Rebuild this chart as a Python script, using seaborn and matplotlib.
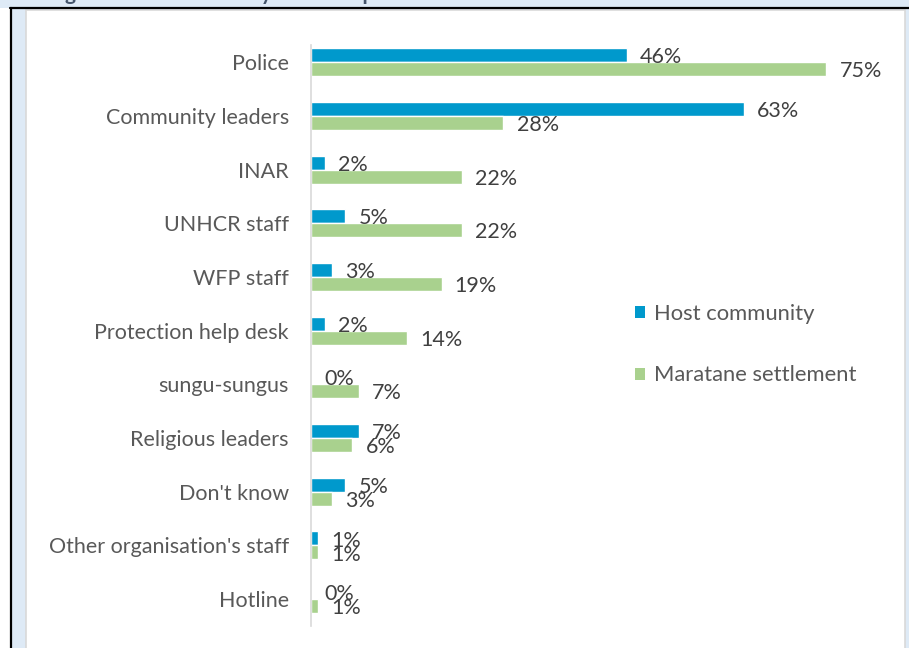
import matplotlib
matplotlib.use("Agg")
import matplotlib.pyplot as plt
from matplotlib.patches import Rectangle, Patch
import seaborn as sns
import pandas as pd

# Who respondents would first report to, by population group (%)
categories = [
    "Police", "Community leaders", "INAR", "UNHCR staff", "WFP staff",
    "Protection help desk", "sungu-sungus", "Religious leaders", "Don't know",
    "Other organisation's staff", "Hotline",
]
host_community = [46, 63, 2, 5, 3, 2, 0, 7, 5, 1, 0]
maratane_settlement = [75, 28, 22, 22, 19, 14, 7, 6, 3, 1, 1]
series_names = ["Host community", "Maratane settlement"]
series_colors = ["#0099CC", "#A9D18E"]
caption = "Figure 36: Who would you first report an incident of GBV to?"

df = pd.DataFrame({
    "category": categories * 2,
    "value": host_community + maratane_settlement,
    "group": [series_names[0]] * len(categories) + [series_names[1]] * len(categories),
})

sns.set_style("white")
plt.rcParams["font.family"] = ["Lato", "DejaVu Sans"]

W, H = 909, 648
FS = 15.5
fig = plt.figure(figsize=(W / 100, H / 100), dpi=100)
fig.patch.set_facecolor("white")

# page frame around the chart
page_blue = "#DEEAF6"
fig.add_artist(Rectangle((0, 1 - 8 / H), 1, 8 / H, transform=fig.transFigure,
                         facecolor=page_blue, edgecolor="none", zorder=-3))
fig.add_artist(Rectangle((12 / W, 0), (909 - 12) / W, (H - 9) / H, transform=fig.transFigure,
                         facecolor=page_blue, edgecolor="none", zorder=-3))
fig.add_artist(Rectangle((26 / W, -0.01), (905 - 26) / W, (H - 10) / H + 0.01,
                         transform=fig.transFigure, facecolor="white",
                         edgecolor="#D9D9D9", linewidth=1.2, zorder=-2))
fig.add_artist(plt.Line2D([10 / W, 1], [1 - 8 / H, 1 - 8 / H], transform=fig.transFigure,
                          color="black", linewidth=1.6, zorder=-1))
fig.add_artist(plt.Line2D([11 / W, 11 / W], [0, 1 - 8 / H], transform=fig.transFigure,
                          color="black", linewidth=1.6, zorder=-1))
fig.text(48 / W, 1 + 0.5 / H, caption, transform=fig.transFigure, ha="left", va="baseline",
         fontsize=15, fontweight="bold", color="#44546A", zorder=-2.5)

ax = fig.add_axes([311 / W, 1 - 626 / H, 584 / W, (626 - 45) / H])
ax.patch.set_alpha(0)
sns.barplot(data=df, y="category", x="value", hue="group", hue_order=series_names,
            palette=series_colors, orient="h", width=0.52, saturation=1,
            legend=False, ax=ax)

ax.set_xlim(0, 85)
ax.set_ylim(10.5, -0.32)
ax.set_xlabel("")
ax.set_ylabel("")
ax.set_xticks([])
for side in ("top", "right", "bottom"):
    ax.spines[side].set_visible(False)
ax.spines["left"].set_color("#D9D9D9")
ax.spines["left"].set_linewidth(1.2)
ax.tick_params(axis="y", length=0, pad=16, labelsize=FS, labelcolor="#595959")

values = [host_community, maratane_settlement]
for container, vals in zip(ax.containers, values):
    for bar, v in zip(container, vals):
        yc = bar.get_y() + bar.get_height() / 2
        ax.annotate(f"{v}%", xy=(v, yc), xytext=(9.5, -1.5), textcoords="offset points",
                    ha="left", va="center", fontsize=FS, color="#404040")

handles = [Patch(facecolor=c, edgecolor="none", label=n) for c, n in zip(series_colors, series_names)]
ax.legend(handles=handles, loc="upper left", bbox_to_anchor=(615 / W, 1 - 284 / H),
          bbox_transform=fig.transFigure, frameon=False, fontsize=15.8,
          handlelength=0.45, handleheight=0.45, handletextpad=0.45, labelspacing=1.9,
          labelcolor="#595959")

fig.savefig("out.png", dpi=100, facecolor=fig.get_facecolor())
